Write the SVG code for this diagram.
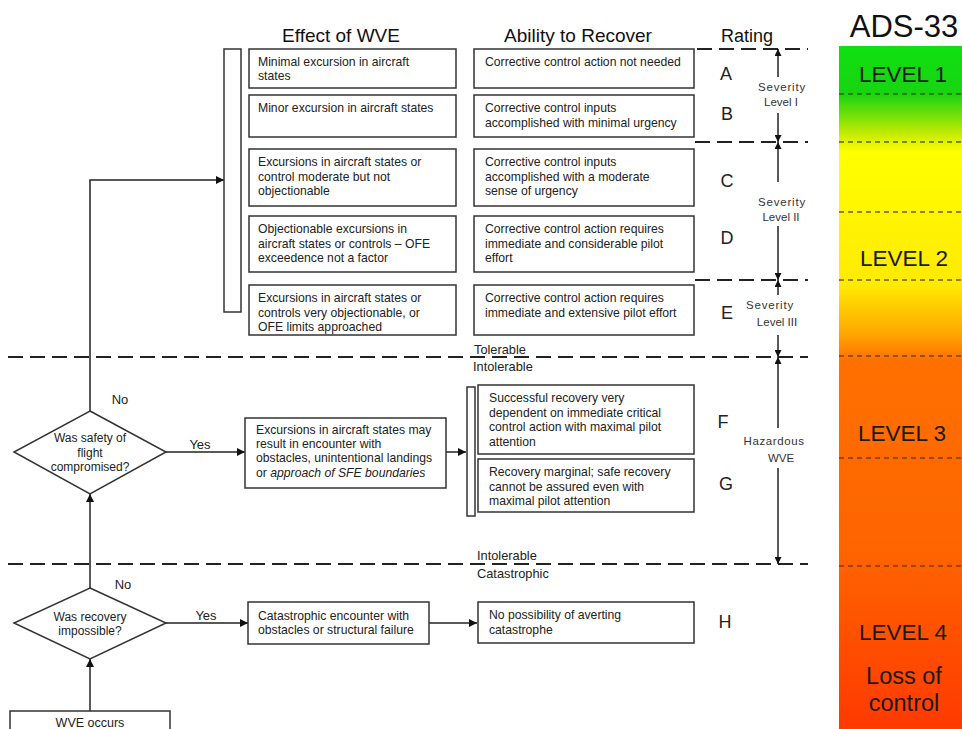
<svg xmlns="http://www.w3.org/2000/svg" width="962" height="729" viewBox="0 0 962 729">
<style>
text{font-family:"Liberation Sans",Arial,sans-serif;fill:#222}
.bx{fill:#fff;stroke:#333;stroke-width:1.5}
.t{font-size:12.2px}
.tm{font-size:12.2px}
.h{font-size:19px;fill:#111}
.r{font-size:18px;text-anchor:middle}
.s{font-size:11.5px;text-anchor:middle;fill:#333}
.c{text-anchor:middle}
.b{font-size:12.8px}
.yn{font-size:13px;text-anchor:middle}
.ln{fill:none;stroke:#222;stroke-width:1.5}
.dl{fill:none;stroke:#222;stroke-width:2;stroke-dasharray:15 7}
.bd{fill:none;stroke:#4a3a10;stroke-width:1.3;stroke-dasharray:5 4;opacity:.8}
.lv{font-size:22.5px;text-anchor:middle;fill:#1a1a1a}
</style>
<defs>
<marker id="ar" viewBox="0 0 10 10" refX="10" refY="5" markerWidth="9" markerHeight="8" markerUnits="userSpaceOnUse" orient="auto"><path d="M0,0L10,5L0,10z" fill="#111"/></marker>
<marker id="sa" viewBox="0 0 10 10" refX="10" refY="5" markerWidth="8" markerHeight="7" markerUnits="userSpaceOnUse" orient="auto"><path d="M0,0L10,5L0,10z" fill="#111"/></marker>
<linearGradient id="gb" gradientUnits="userSpaceOnUse" x1="0" y1="46" x2="0" y2="729">
<stop offset="0" stop-color="#10e010"/>
<stop offset="0.07" stop-color="#18d412"/>
<stop offset="0.13" stop-color="#c8ec00"/>
<stop offset="0.155" stop-color="#ffff00"/>
<stop offset="0.35" stop-color="#ffea00"/>
<stop offset="0.42" stop-color="#ffa800"/>
<stop offset="0.46" stop-color="#ff7000"/>
<stop offset="0.74" stop-color="#ff6400"/>
<stop offset="1" stop-color="#ff3a00"/>
</linearGradient>
</defs>

<g id="ads33">
<rect x="839" y="46" width="123" height="683" fill="url(#gb)"/>
<path class="bd" d="M839,94H962M839,142H962M839,212H962M839,280H962M839,356H962M839,458H962M839,566H962"/>
<text x="904" y="37" style="font-size:31px;text-anchor:middle;fill:#111">ADS-33</text>
<text class="lv" x="903" y="82">LEVEL 1</text>
<text class="lv" x="904" y="266">LEVEL 2</text>
<text class="lv" x="902" y="441">LEVEL 3</text>
<text class="lv" x="903" y="640">LEVEL 4</text>
<text class="lv" x="904" y="684" style="font-size:23.5px">Loss of</text>
<text class="lv" x="904" y="711" style="font-size:23.5px">control</text>
</g>

<g id="headers">
<text class="h" x="341" y="42" text-anchor="middle">Effect of WVE</text>
<text class="h" x="578" y="42" text-anchor="middle">Ability to Recover</text>
<text class="h" x="747" y="42" text-anchor="middle" style="font-size:18px">Rating</text>
</g>

<g id="connectors">
<path class="dl" d="M697,49H808M695,142H808M695,280H808"/>
<path class="dl" d="M8,357H808M8,564H808"/>
<path class="ln" d="M90,411V180H224" marker-end="url(#ar)"/>
<path class="ln" d="M166,452H245" marker-end="url(#ar)"/>
<path class="ln" d="M446,452H466" marker-end="url(#ar)"/>
<path class="ln" d="M90,588V494" marker-end="url(#ar)"/>
<path class="ln" d="M90,711V659" marker-end="url(#ar)"/>
<path class="ln" d="M166,623H248" marker-end="url(#ar)"/>
<path class="ln" d="M429,623H477" marker-end="url(#ar)"/>
<g class="sev">
<path class="ln" d="M778,77V49" marker-end="url(#sa)"/>
<path class="ln" d="M778,113V142" marker-end="url(#sa)"/>
<path class="ln" d="M778,182V142" marker-end="url(#sa)"/>
<path class="ln" d="M778,226V280" marker-end="url(#sa)"/>
<path class="ln" d="M778,295V280" marker-end="url(#sa)"/>
<path class="ln" d="M778,335V357" marker-end="url(#sa)"/>
<path class="ln" d="M778,428V357" marker-end="url(#sa)"/>
<path class="ln" d="M778,468V564" marker-end="url(#sa)"/>
</g>
<text x="120" y="404" class="yn">No</text>
<text x="200" y="449" class="yn">Yes</text>
<text x="123" y="589" class="yn">No</text>
<text x="206" y="620" class="yn">Yes</text>
</g>

<g id="boundaries">
<text class="b" x="474" y="354">Tolerable</text>
<text class="b" x="473" y="371">Intolerable</text>
<text class="b" x="477" y="560">Intolerable</text>
<text class="b" x="477" y="578">Catastrophic</text>
</g>

<g id="severity-labels">
<text class="s" x="782" y="91" letter-spacing="0.8">Severity</text>
<text class="s" x="781" y="106">Level I</text>
<text class="s" x="782" y="206" letter-spacing="0.8">Severity</text>
<text class="s" x="781" y="221">Level II</text>
<text class="s" x="770" y="309" letter-spacing="0.8">Severity</text>
<text class="s" x="777" y="326">Level III</text>
<text class="s" x="774" y="445" letter-spacing="0.6">Hazardous</text>
<text class="s" x="781" y="462">WVE</text>
</g>

<g id="ratings">
<text class="r" x="726" y="80">A</text>
<text class="r" x="727" y="120">B</text>
<text class="r" x="727" y="187">C</text>
<text class="r" x="727" y="244">D</text>
<text class="r" x="727" y="319">E</text>
<text class="r" x="723" y="428">F</text>
<text class="r" x="726" y="490">G</text>
<text class="r" x="725" y="628">H</text>
</g>

<g id="effect-bar"><rect class="bx" x="224" y="49" width="17" height="263"/></g>

<g id="effect-A"><rect class="bx" x="249" y="49" width="207" height="39"/>
<text class="t" x="258" y="66">Minimal excursion in aircraft</text><text class="t" x="258" y="79.5">states</text></g>
<g id="effect-B"><rect class="bx" x="249" y="95" width="207" height="42"/>
<text class="t" x="258" y="112">Minor excursion in aircraft states</text></g>
<g id="effect-C"><rect class="bx" x="249" y="149" width="207" height="57"/>
<text class="tm" x="258" y="166">Excursions in aircraft states or</text><text class="tm" x="258" y="180.5">control moderate but not</text><text class="tm" x="258" y="195">objectionable</text></g>
<g id="effect-D"><rect class="bx" x="249" y="216" width="207" height="56"/>
<text class="tm" x="258" y="233">Objectionable excursions in</text><text class="tm" x="258" y="247.5">aircraft states or controls – OFE</text><text class="tm" x="258" y="262">exceedence not a factor</text></g>
<g id="effect-E"><rect class="bx" x="249" y="285" width="207" height="50"/>
<text class="tm" x="258" y="302">Excursions in aircraft states or</text><text class="tm" x="258" y="316.5">controls very objectionable, or</text><text class="tm" x="258" y="331">OFE limits approached</text></g>

<g id="recover-A"><rect class="bx" x="474" y="49" width="220" height="39"/>
<text class="t" x="485" y="66">Corrective control action not needed</text></g>
<g id="recover-B"><rect class="bx" x="474" y="95" width="220" height="42"/>
<text class="t" x="485" y="112">Corrective control inputs</text><text class="t" x="485" y="126.5">accomplished with minimal urgency</text></g>
<g id="recover-C"><rect class="bx" x="474" y="149" width="220" height="57"/>
<text class="t" x="485" y="166">Corrective control inputs</text><text class="t" x="485" y="180.5">accomplished with a moderate</text><text class="t" x="485" y="195">sense of urgency</text></g>
<g id="recover-D"><rect class="bx" x="474" y="216" width="220" height="56"/>
<text class="t" x="485" y="233">Corrective control action requires</text><text class="t" x="485" y="247.5">immediate and considerable pilot</text><text class="t" x="485" y="262">effort</text></g>
<g id="recover-E"><rect class="bx" x="474" y="285" width="220" height="50"/>
<text class="t" x="485" y="302">Corrective control action requires</text><text class="t" x="485" y="316.5">immediate and extensive pilot effort</text></g>

<g id="q-safety"><path class="bx" d="M90,411L166,452L90,494L14,452Z"/>
<text class="c" style="font-size:12px" x="90" y="442">Was safety of</text><text class="c" style="font-size:12px" x="90" y="457">flight</text><text class="c" style="font-size:12px" x="90" y="471">compromised?</text></g>

<g id="hazard-effect"><rect class="bx" x="245" y="418" width="201" height="70"/>
<text class="tm" x="256" y="434">Excursions in aircraft states may</text><text class="tm" x="256" y="448">result in encounter with</text><text class="tm" x="256" y="462">obstacles, unintentional landings</text><text class="tm" x="256" y="477">or <tspan font-style="italic">approach of SFE boundaries</tspan></text></g>

<g id="hazard-bar"><rect class="bx" x="467" y="387" width="8" height="129"/></g>
<g id="recover-F"><rect class="bx" x="478" y="385" width="216" height="69"/>
<text class="t" x="489" y="402">Successful recovery very</text><text class="t" x="489" y="416.5">dependent on immediate critical</text><text class="t" x="489" y="431">control action with maximal pilot</text><text class="t" x="489" y="445.5">attention</text></g>
<g id="recover-G"><rect class="bx" x="478" y="459" width="216" height="53"/>
<text class="t" x="489" y="476">Recovery marginal; safe recovery</text><text class="t" x="489" y="490.5">cannot be assured even with</text><text class="t" x="489" y="505">maximal pilot attention</text></g>

<g id="q-recovery"><path class="bx" d="M90,588L166,623L90,659L14,623Z"/>
<text class="c" style="font-size:12px" x="90" y="621">Was recovery</text><text class="c" style="font-size:12px" x="90" y="635">impossible?</text></g>

<g id="catastrophic"><rect class="bx" x="248" y="602" width="181" height="42"/>
<text class="tm" x="258" y="620">Catastrophic encounter with</text><text class="tm" x="258" y="634">obstacles or structural failure</text></g>
<g id="recover-H"><rect class="bx" x="478" y="602" width="216" height="41"/>
<text class="t" x="489" y="619">No possibility of averting</text><text class="t" x="489" y="634">catastrophe</text></g>

<g id="wve-occurs"><rect class="bx" x="10" y="711" width="160" height="30"/>
<text class="c" style="font-size:12.5px" x="90" y="727">WVE occurs</text></g>
</svg>
